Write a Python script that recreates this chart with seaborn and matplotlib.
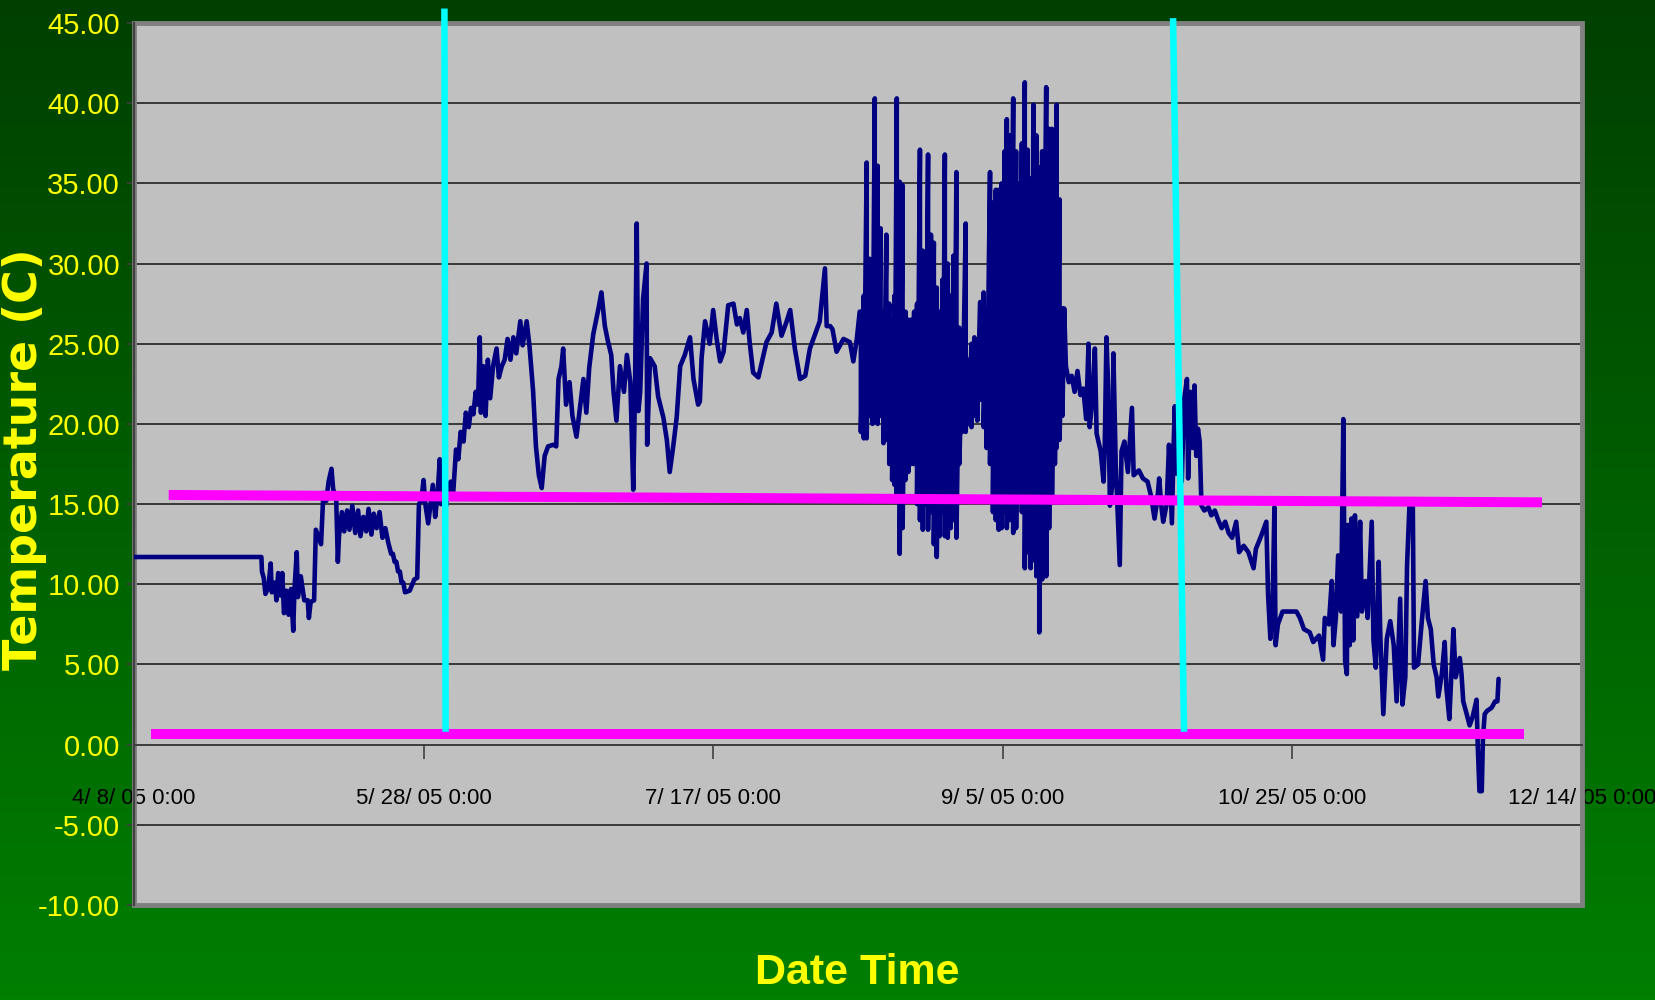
import matplotlib
matplotlib.use("Agg")

import matplotlib.dates as mdates
import matplotlib.pyplot as plt
import numpy as np
import pandas as pd
import seaborn as sns
from matplotlib.colors import LinearSegmentedColormap
from matplotlib.patches import Rectangle
from matplotlib.ticker import FuncFormatter, MultipleLocator

START = pd.Timestamp("2005-04-08")

# logger readings before the dense August/September stretch (days after 4/8/05, deg C)
early_days = [
    0.0, 22.0, 22.1, 22.4, 22.7, 23.2, 23.6, 23.8, 24.3, 24.6, 24.9, 25.3, 25.6, 25.9,
    26.3, 26.7, 27.1, 27.5, 27.7, 28.1, 28.3, 28.8, 29.4, 30.0, 30.2, 30.5, 31.1, 31.4,
    31.8, 32.3, 32.7, 33.2, 33.6, 34.1, 34.4, 34.9, 35.2, 35.4, 35.9, 36.3, 36.8, 37.2,
    37.7, 38.2, 38.7, 39.1, 39.6, 40.1, 40.5, 41.0, 41.4, 41.9, 42.4, 42.9, 43.4, 43.9,
    44.4, 44.7, 45.0, 45.3, 45.6, 45.9, 46.2, 46.5, 46.8, 47.6, 48.4, 48.9, 49.2, 49.6,
    50.0, 50.3, 50.8, 51.2, 51.6, 52.0, 52.4, 52.8, 53.0, 53.5, 53.9, 54.3, 54.7, 55.1,
    55.6, 56.0, 56.4, 56.9, 57.3, 57.8, 58.2, 58.6, 59.0, 59.4, 59.7, 59.9, 60.3, 60.7,
    61.1, 61.5, 62.0, 62.6, 63.0, 63.5, 64.0, 64.5, 65.0, 65.5, 66.0, 66.7, 67.1, 67.8,
    68.3, 68.9, 69.4, 69.9, 70.4, 70.9, 71.5, 72.4, 72.9, 73.3, 73.8, 74.1, 74.6, 75.2,
    75.7, 76.4, 76.9, 77.6, 78.1, 78.6, 79.3, 80.2, 80.7, 81.3, 81.8, 82.4, 82.8, 83.3,
    83.9, 84.6, 85.1, 85.7, 86.2, 86.5, 86.8, 87.1, 87.4, 87.9, 88.5, 88.6, 89.1, 89.9,
    90.5, 91.4, 92.0, 92.5, 93.1, 93.7, 94.3, 95.1, 96.0, 96.6, 97.4, 97.7, 98.0, 98.6,
    99.4, 100.0, 100.6, 101.2, 101.8, 102.6, 103.5, 104.1, 104.6, 105.2, 105.8, 106.3,
    106.9, 107.8, 108.7, 109.2, 110.1, 110.9, 111.8, 112.6, 113.3, 114.1, 115.0, 115.9,
    116.7, 117.3, 118.4, 119.3, 119.6, 120.2, 120.6, 121.3, 122.5, 123.6, 124.2, 124.8,
    125.3,
]
early_temp = [
    11.7, 11.7, 10.8, 10.4, 9.4, 9.8, 11.3, 9.5, 10.1, 9.0, 10.7, 9.3, 10.7, 8.2,
    9.6, 8.1, 9.7, 7.1, 9.6, 12.0, 9.2, 10.5, 9.0, 9.0, 7.9, 8.9, 9.0, 13.4,
    13.0, 12.5, 15.7, 15.2, 16.4, 17.2, 15.9, 15.5, 11.4, 13.0, 14.5, 13.3, 14.6, 13.4,
    14.9, 13.2, 14.6, 13.0, 14.2, 13.3, 14.7, 13.1, 14.4, 13.5, 14.5, 12.9, 13.5, 12.6,
    11.9, 11.9, 11.4, 11.4, 10.8, 10.8, 10.1, 10.1, 9.5, 9.6, 10.3, 10.4, 15.0, 15.2,
    16.5, 15.0, 13.8, 15.0, 16.2, 14.2, 15.5, 17.8, 15.0, 16.3, 14.9, 16.2, 16.4, 15.6,
    18.4, 17.8, 19.5, 18.9, 20.7, 19.8, 21.0, 20.6, 22.0, 21.2, 25.4, 20.7, 23.6, 20.5,
    24.0, 21.6, 23.6, 24.7, 22.9, 23.6, 24.0, 25.3, 24.0, 25.4, 24.4, 26.4, 24.9, 26.4,
    24.8, 22.1, 18.6, 16.8, 16.0, 18.0, 18.6, 18.7, 18.6, 22.8, 23.6, 24.7, 21.2, 22.6,
    20.5, 19.2, 20.7, 22.8, 20.7, 23.5, 25.6, 27.2, 28.2, 26.1, 25.2, 24.3, 22.0, 20.2,
    23.6, 22.0, 24.3, 22.6, 15.9, 22.0, 32.5, 20.8, 22.0, 27.8, 30.0, 18.7, 24.1, 23.6,
    21.7, 20.4, 19.0, 17.0, 18.6, 20.4, 23.6, 24.3, 25.4, 22.8, 21.2, 21.4, 24.1, 26.4,
    25.0, 27.1, 25.3, 23.9, 24.5, 27.4, 27.5, 26.2, 26.6, 25.7, 27.1, 25.1,
    23.2, 22.9, 24.3, 25.1, 25.7, 27.5, 25.5, 26.3, 27.1, 24.7, 22.8, 23.0,
    24.7, 25.3, 26.4, 29.7, 26.1, 26.1, 25.9, 24.5, 25.3, 25.1, 23.9, 25.3,
    27.0,
]

# dense stretch: daily swings read as high / low pairs
dense_days = [
    125.5, 126.0, 126.5, 127.0, 127.5, 127.9, 128.4, 128.9, 129.4, 129.9, 130.4, 130.9,
    131.3, 131.7, 132.2, 132.7, 133.2, 133.7, 134.2, 134.7, 135.2, 135.7, 136.2, 136.6,
    137.1, 137.6, 138.1, 138.6, 139.1, 139.6, 140.0, 140.5, 141.0, 141.5, 142.0, 142.5,
    143.0, 143.6, 144.1, 144.6, 145.1, 145.6, 146.1, 146.7, 147.2, 147.8, 148.3, 148.8,
    149.3, 149.8, 150.3, 150.7, 151.2, 151.8, 152.3, 152.8, 153.3, 153.8, 154.3, 154.8,
    155.3, 155.8, 156.3, 156.8, 157.5, 158.0, 158.5, 159.0, 159.3, 159.8, 160.3,
]
dense_high = [
    27.0, 28.0, 36.3, 30.3, 28.0, 40.3, 36.1, 32.2, 27.0, 31.8, 27.5, 26.5,
    28.0, 40.3, 35.1, 34.9, 27.0, 26.5, 26.5, 27.0, 27.5, 37.1, 30.8, 28.0,
    36.8, 31.8, 31.3, 28.5, 27.0, 29.0, 36.8, 30.0, 28.0, 30.5, 35.7, 26.0,
    24.5, 32.5, 24.0, 25.0, 25.4, 24.5, 27.6, 28.2, 27.0, 35.7, 33.8, 34.6,
    34.6, 35.0, 37.0, 39.0, 38.0, 40.3, 37.0, 35.0, 37.5, 41.3, 37.1, 35.3,
    39.9, 38.0, 36.0, 37.0, 41.0, 38.4, 38.4, 36.0, 39.9, 34.0, 27.2,
]
dense_low = [
    19.5, 19.1, 19.1, 20.5, 20.0, 21.0, 20.0, 20.5, 18.8, 19.0, 17.5, 16.5,
    16.2, 15.5, 11.9, 13.5, 16.5, 17.0, 17.5, 17.5, 15.0, 14.0, 13.4, 15.0,
    13.4, 14.5, 12.5, 11.7, 13.0, 14.5, 13.0, 12.9, 13.5, 14.0, 12.9, 17.5,
    19.5, 19.5, 20.0, 19.8, 20.5, 20.2, 21.5, 19.8, 18.5, 17.5, 14.5, 14.0,
    13.4, 13.5, 14.5, 13.5, 14.0, 13.2, 13.5, 15.5, 14.5, 11.0, 12.0, 11.0,
    11.5, 10.5, 7.0, 10.3, 10.5, 13.5, 15.5, 17.5, 18.5, 19.0, 20.5,
]

late_days = [
    160.6, 160.9, 161.4, 161.9, 162.4, 162.9, 163.4, 163.9, 164.4, 164.8, 165.0, 165.5,
    165.9, 166.2, 166.9, 167.4, 167.6, 167.9, 168.2, 168.5, 168.9, 169.1, 169.5, 170.2,
    170.5, 171.0, 171.6, 172.3, 172.6, 173.5, 174.2, 175.0, 175.6, 176.2, 176.7, 177.0,
    177.4, 177.7, 178.3, 178.7, 179.2, 179.5, 179.7, 180.0, 180.5, 180.9, 181.3, 181.8,
    182.0, 182.4, 182.8, 183.1, 183.4, 183.7, 184.0, 184.3, 184.8, 185.5, 186.0, 186.6,
    187.2, 187.8, 188.4, 189.0, 189.6, 190.3, 190.8, 191.6, 192.4, 193.3, 193.7, 194.7,
    195.5, 195.8, 196.2, 196.6, 196.9, 197.1, 197.5, 198.3, 200.7, 201.3, 202.0, 203.0,
    203.6, 204.6, 205.3, 205.6, 206.3, 206.8, 207.1, 207.5, 207.9, 208.4, 208.8, 209.1,
    209.4, 209.6, 209.9, 210.2, 210.5, 210.8, 211.2, 211.7, 212.0, 212.6, 213.0, 213.7,
    214.0, 214.4, 214.9, 215.2, 215.7, 216.3, 216.9, 217.5, 218.0, 218.6, 219.0, 219.5,
    219.8, 220.2, 220.8, 221.0, 221.7, 222.4, 223.0, 223.4, 223.9, 224.4, 224.9, 225.2,
    225.8, 226.3, 226.6, 227.1, 227.8, 228.2, 228.9, 229.2, 229.5, 230.1, 230.6, 231.1,
    231.8, 232.0, 232.3, 232.7, 232.9, 233.2, 233.6, 234.4, 235.0, 235.4, 235.6,
]
late_temp = [
    27.2, 23.6, 22.6, 23.0, 22.0, 23.3, 21.8, 22.2, 20.3, 25.0, 19.8, 21.6,
    24.7, 19.4, 18.3, 16.4, 18.5, 25.4, 22.2, 14.9, 16.2, 24.4, 17.5, 11.2,
    18.3, 18.9, 17.0, 21.0, 16.8, 17.1, 16.6, 16.4, 15.5, 14.1, 15.3, 16.6,
    14.8, 13.9, 15.0, 18.7, 13.8, 18.7, 21.1, 16.9, 20.3, 16.4, 21.5, 22.8,
    16.6, 22.0, 18.5, 22.4, 18.0, 19.7, 18.9, 14.9, 14.6, 14.8, 14.3, 14.6,
    14.0, 13.5, 13.9, 13.2, 12.9, 13.9, 12.0, 12.4, 12.0, 11.0, 12.2, 13.1,
    13.9, 9.4, 6.6, 9.0, 14.8, 6.2, 7.5, 8.3, 8.3, 7.9, 7.2, 7.0,
    6.4, 6.8, 5.3, 7.9, 7.5, 10.2, 6.2, 7.9, 11.8, 8.3, 20.3, 5.2,
    4.4, 13.7, 6.2, 14.1, 6.5, 14.3, 8.0, 13.9, 8.3, 10.2, 7.9, 13.9,
    6.5, 4.8, 11.4, 6.6, 1.9, 6.6, 7.7, 6.2, 2.7, 9.1, 2.5, 4.2,
    11.2, 14.8, 14.8, 4.8, 5.0, 7.9, 10.2, 7.9, 7.2, 5.0, 4.2, 3.0,
    4.4, 6.4, 3.5, 1.6, 7.2, 4.2, 5.4, 4.4, 2.7, 1.9, 1.2, 1.7,
    2.8, 0.0, -2.9, -2.9, 0.4, 1.9, 2.1, 2.3, 2.7, 2.7, 4.1,
]

# reference lines drawn over the chart
cyan_days = [[53.6, 53.8], [179.4, 181.3]]
cyan_temp = [[45.9, 0.8], [45.3, 0.8]]
magenta_days = [[6.0, 243.1], [2.9, 240.0]]
magenta_temp = [[15.57, 15.11], [0.66, 0.66]]

tick_days = [0, 50, 100, 150, 200, 250]


def to_time(days):
    return START + pd.to_timedelta(np.asarray(days, dtype=float), unit="D")


dense_x = [d for d in dense_days for _ in range(2)]
dense_y = [v for pair in zip(dense_high, dense_low) for v in pair]
series = pd.DataFrame({
    "Date Time": to_time(early_days + dense_x + late_days),
    "Temperature": early_temp + dense_y + late_temp,
})

sns.set_theme(style="white")
narrow = ["Liberation Sans", "DejaVu Sans"]
plt.rcParams["font.family"] = narrow

fig = plt.figure(figsize=(16.56, 10), dpi=100)

bg = fig.add_axes([0, 0, 1, 1], zorder=-10)
green = LinearSegmentedColormap.from_list("bg", ["#003f00", "#007f00"])
bg.imshow(np.linspace(0, 1, 256).reshape(-1, 1), aspect="auto", cmap=green,
          extent=[0, 1, 0, 1], origin="upper")
bg.axis("off")

ax = fig.add_axes([0.0809, 0.095, 0.8744, 0.882])
ax.set_facecolor("#c0c0c0")

sns.lineplot(data=series, x="Date Time", y="Temperature", ax=ax, sort=False,
             estimator=None, color="#000080", linewidth=3.3, zorder=4)

for xs, ys in zip(magenta_days, magenta_temp):
    ax.plot(to_time(xs), ys, color="#ff00ff", linewidth=7.2,
            solid_capstyle="butt", zorder=5)
for xs, ys in zip(cyan_days, cyan_temp):
    ax.plot(to_time(xs), ys, color="#00ffff", linewidth=4.7,
            solid_capstyle="butt", zorder=6, clip_on=False)

ax.set_xlim(to_time([0])[0], to_time([250])[0])
ax.set_ylim(-10, 45)
ax.set_xticks(to_time(tick_days))
ax.xaxis.set_major_formatter(FuncFormatter(
    lambda v, pos: (lambda d: f"{d.month}/ {d.day}/ {d:%y} 0:00")(mdates.num2date(v))))
ax.yaxis.set_major_locator(MultipleLocator(5))
ax.yaxis.set_major_formatter(FuncFormatter(lambda v, pos: f"{v:.2f}"))

ax.grid(axis="y", color="#151515", linewidth=1.1)
ax.grid(axis="x", visible=False)
ax.set_axisbelow(True)

for side in ["top", "right"]:
    ax.spines[side].set_visible(False)
ax.spines["left"].set_color("#404040")
ax.spines["left"].set_linewidth(1.6)
ax.spines["bottom"].set_position(("data", 0))
ax.spines["bottom"].set_color("#404040")
ax.spines["bottom"].set_linewidth(1.4)
ax.add_patch(Rectangle((0, 0), 1, 1, transform=ax.transAxes, fill=False,
                       edgecolor="#808080", linewidth=3.5, zorder=2.4, clip_on=False))

ax.tick_params(axis="y", direction="out", length=5, width=1.2, color="#404040",
               labelcolor="#ffff00", labelsize=21, pad=5, left=True)
ax.tick_params(axis="x", direction="out", length=10, width=1.2, color="#404040",
               labelcolor="black", labelsize=16, pad=21, bottom=True)
ax.set_xlabel("")
ax.set_ylabel("")

fig.text(0.0148, 0.541, "Temperature (C)", rotation=90, ha="center", va="center",
         color="#ffff00", fontsize=33, fontweight="bold", family=["DejaVu Sans"])
fig.text(0.5175, 0.027, "Date Time", ha="center", va="center", color="#ffff00",
         fontsize=31, fontweight="bold", family=narrow)

fig.savefig("out.png", dpi=100, facecolor=fig.get_facecolor())
